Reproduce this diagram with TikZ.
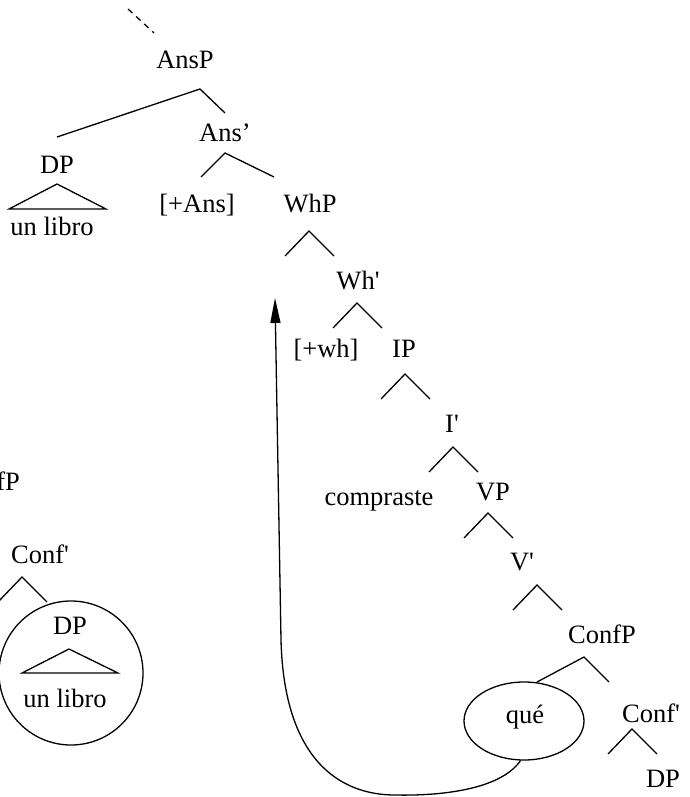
\documentclass[tikz,border=0pt]{standalone}
\usepackage{fontspec}
\setmainfont{Liberation Serif}
\usetikzlibrary{arrows.meta,shapes.geometric}

\tikzset{
  lbl/.style={inner sep=0pt, anchor=base, font=\fontsize{26.5}{31}\selectfont},
  branch/.style={line width=1.3pt},
}
% small inverted V under a label
\newcommand{\fork}[1]{\draw[branch] (#1) ++(-24,25) -- (#1) -- ++(25,25);}

\begin{document}
\begin{tikzpicture}[x=1pt,y=-1pt]
			\useasboundingbox (0,0) rectangle (689,797);
			\clip (0,0) rectangle (689,797);

			% upper part of the tree
			\coordinate (up) at (128,9);
			\draw[branch, dash pattern=on 6pt off 5pt] (up) -- (154,33);
			\node[lbl] (ansp) at (185,69) {AnsP};
			\draw[branch] (57,137) -- (200,89) -- (225,113);
			\node[lbl] (ansbar) at (225,141) {Ans’};
			\node[lbl] (dp1) at (57,173) {DP};
			\draw[branch] (57,184) -- (9,209) -- (106,209) -- cycle;
			\node[lbl] (libro1) at (52,235) {un libro};
			\draw[branch] (201,177) -- (225,153) -- (274,177);
			\node[lbl] (ans) at (197,212) {[+Ans]};
			\node[lbl] (whp) at (310,212) {WhP};

			% spine
			\fork{309,231}
			\node[lbl] (whbar) at (358,289) {Wh\textquotesingle};
			\fork{357,303}
			\node[lbl] (wh) at (326,357) {[+wh]};
			\node[lbl] (ip) at (404,357) {IP};
			\fork{405,374}
			\node[lbl] (ibar) at (452,432) {I\textquotesingle};
			\fork{453,447}
			\node[lbl] (compraste) at (379,505) {compraste};
			\node[lbl] (vp) at (493,500) {VP};
			\fork{488,513}
			\node[lbl] (vbar) at (522,570) {V\textquotesingle};
			\fork{537,585}
			\node[lbl] (confp) at (602,643) {ConfP};
			\draw[branch] (537,682) -- (584,657) -- (609,682);
			\node[draw, ellipse, branch, minimum width=120pt, minimum height=78pt] (que) at (524,721) {};
			\node[lbl] (quetxt) at (525,723) {qué};
			\node[lbl] (confbar) at (651,722) {Conf\textquotesingle};
			\fork{632,729}
			\node[lbl] (dp2) at (663,787) {DP};

			% left copy, cut at the edge
			\node[lbl] (confp0) at (-14,490) {ConfP};
			\node[lbl] (confbar0) at (40,563) {Conf\textquotesingle};
			\fork{22,577}
			\node[draw, circle, branch, minimum size=144pt] (ring) at (71,673) {};
			\node[lbl] (dp0) at (70,634) {DP};
			\draw[branch] (69,649) -- (22,673) -- (118,673) -- cycle;
			\node[lbl] (libro0) at (65,707) {un libro};

			% movement of que
			\coordinate (land) at (275,298);
			\draw[branch, -{Triangle[length=25pt,width=10pt]}] (que.265)
				.. controls (500,790) and (440,796) .. (395,795)
				.. controls (340,795) and (284,760) .. (281,640) -- (land);
\end{tikzpicture}
\end{document}
